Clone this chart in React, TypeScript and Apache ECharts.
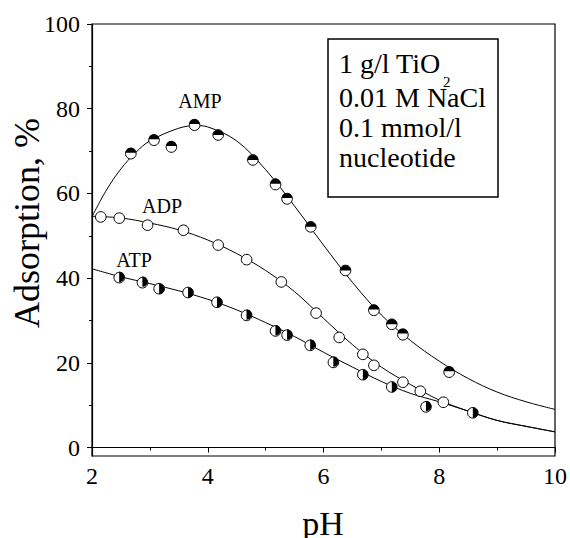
import React, { useEffect, useRef } from "react";
import * as echarts from "echarts";

const FONT = "Liberation Serif";

// Fitted curves
const ampCurvePH = [2, 2.25, 2.5, 2.75, 3, 3.5, 3.8, 4, 4.5, 5, 5.5, 6, 6.5, 7, 7.5, 8, 8.5, 9, 9.5, 10];
const ampCurveVal = [54.5, 60.8, 65.8, 69.6, 72.4, 75.4, 76.0, 75.7, 72.4, 65.6, 57.0, 47.8, 39.0, 31.3, 25.3, 20.4, 16.3, 13.1, 10.8, 9.0];

const adpCurvePH = [2, 2.5, 3, 3.5, 4, 4.5, 5, 5.5, 6, 6.5, 7, 7.5, 8, 8.5, 9, 9.5, 10];
const adpCurveVal = [54.6, 54.2, 53.0, 51.4, 49.0, 45.8, 41.8, 36.8, 30.5, 24.3, 19.0, 14.9, 11.2, 8.6, 6.4, 5.0, 3.7];

const atpCurvePH = [2, 2.5, 3, 3.5, 4, 4.5, 5, 5.5, 6, 6.5, 7, 7.5, 8, 8.5, 9, 9.5, 10];
const atpCurveVal = [42.2, 40.3, 38.7, 37.0, 35.0, 32.5, 29.5, 26.2, 22.5, 19.0, 15.6, 12.8, 10.8, 8.6, 6.4, 5.0, 3.7];

// Measured points
const ampPH = [2.67, 3.07, 3.37, 3.77, 4.18, 4.78, 5.17, 5.37, 5.78, 6.38, 6.87, 7.18, 7.37, 8.17];
const ampVal = [69.6, 72.8, 71.2, 76.4, 73.8, 67.9, 62.3, 58.9, 52.1, 41.8, 32.6, 29.1, 26.9, 18.0];

const adpPH = [2.15, 2.47, 2.96, 3.58, 4.18, 4.67, 5.27, 5.87, 6.27, 6.68, 6.87, 7.37, 7.67, 8.07];
const adpVal = [54.7, 54.4, 52.5, 51.3, 47.8, 44.6, 39.3, 32.0, 26.2, 22.0, 19.6, 15.7, 13.6, 10.9];

const atpPH = [2.47, 2.87, 3.16, 3.66, 4.16, 4.67, 5.17, 5.37, 5.77, 6.17, 6.68, 7.18, 7.77, 8.58];
const atpVal = [40.3, 39.2, 37.5, 36.6, 34.3, 31.4, 27.7, 26.7, 24.3, 20.3, 17.2, 14.3, 9.8, 8.2];

const yMajor = [0, 20, 40, 60, 80, 100];
const yMinor = [10, 30, 50, 70, 90];

const boxLines = ["0.01 M NaCl", "0.1 mmol/l", "nucleotide"];

const zip = (xs: number[], ys: number[]) => xs.map((x, i) => [x, ys[i]]);

function curve(name: string, xs: number[], ys: number[]) {
  return {
    name,
    type: "line",
    data: zip(xs, ys),
    smooth: 0.35,
    showSymbol: false,
    symbol: "none",
    lineStyle: { color: "#000", width: 1 },
    z: 2,
    silent: true,
  };
}

function markers(name: string, xs: number[], ys: number[], kind: "top" | "none" | "right") {
  return {
    name: name + " data",
    type: "custom",
    data: zip(xs, ys),
    encode: { x: 0, y: 1 },
    z: 5,
    renderItem: (params: any, api: any) => {
      const p = api.coord([api.value(0), api.value(1)]);
      const r = 5.3;
      const children: any[] = [
        { type: "circle", shape: { cx: p[0], cy: p[1], r }, style: { fill: "#fff", stroke: "none" } },
      ];
      if (kind === "top") {
        children.push({
          type: "sector",
          shape: { cx: p[0], cy: p[1], r0: 0, r, startAngle: Math.PI, endAngle: 2 * Math.PI, clockwise: true },
          style: { fill: "#000" },
        });
      } else if (kind === "right") {
        children.push({
          type: "sector",
          shape: { cx: p[0], cy: p[1], r0: 0, r, startAngle: -Math.PI / 2, endAngle: Math.PI / 2, clockwise: true },
          style: { fill: "#000" },
        });
      }
      children.push({
        type: "circle",
        shape: { cx: p[0], cy: p[1], r },
        style: { fill: "none", stroke: "#000", lineWidth: 1 },
      });
      return { type: "group", children };
    },
  };
}

export default function App() {
  const ref = useRef<HTMLDivElement>(null);

  useEffect(() => {
    if (!ref.current) return;
    const chart = echarts.init(ref.current, null, { renderer: "svg" });
    const txt = { fill: "#000", fontFamily: FONT };
    const option: any = {
      animation: false,
      backgroundColor: "#fff",
      textStyle: { fontFamily: FONT },
      grid: {
        left: 92,
        right: 15,
        top: 24,
        bottom: 82,
        show: true,
        borderColor: "#000",
        borderWidth: 1.2,
        backgroundColor: "transparent",
      },
      xAxis: {
        type: "value",
        min: 2,
        max: 10,
        interval: 2,
        axisLine: { lineStyle: { color: "#000", width: 1.2 } },
        axisTick: { length: 5, lineStyle: { color: "#000", width: 1 } },
        minorTick: { show: true, splitNumber: 2, length: 3, lineStyle: { color: "#000", width: 1 } },
        splitLine: { show: false },
        minorSplitLine: { show: false },
        axisLabel: { color: "#000", fontSize: 24, fontFamily: FONT, margin: 8 },
      },
      yAxis: [
        {
          type: "value",
          min: -2,
          max: 100,
          axisLine: { show: true, lineStyle: { color: "#000", width: 1.2 } },
          axisTick: { show: true, length: 5, customValues: yMajor, lineStyle: { color: "#000", width: 1 } },
          axisLabel: { color: "#000", fontSize: 24, fontFamily: FONT, margin: 12, customValues: yMajor },
          splitLine: { show: false },
        },
        {
          type: "value",
          min: -2,
          max: 100,
          position: "left",
          offset: 0,
          axisLine: { show: false },
          axisTick: { show: true, length: 3, customValues: yMinor, lineStyle: { color: "#000", width: 1 } },
          axisLabel: { show: false },
          splitLine: { show: false },
        },
      ],
      series: [
        curve("AMP fit", ampCurvePH, ampCurveVal),
        curve("ADP fit", adpCurvePH, adpCurveVal),
        curve("ATP fit", atpCurvePH, atpCurveVal),
        markers("AMP", ampPH, ampVal, "top"),
        markers("ADP", adpPH, adpVal, "none"),
        markers("ATP", atpPH, atpVal, "right"),
      ],
      graphic: [
        {
          type: "text",
          x: 27,
          y: 223,
          rotation: Math.PI / 2,
          style: { ...txt, text: "Adsorption, %", fontSize: 36, align: "center", verticalAlign: "middle" },
        },
        {
          type: "text",
          x: 323,
          y: 523,
          style: { ...txt, text: "pH", fontSize: 34, align: "center", verticalAlign: "middle" },
        },
        { type: "text", x: 200, y: 101, style: { ...txt, text: "AMP", fontSize: 20, align: "center", verticalAlign: "middle" } },
        { type: "text", x: 162, y: 206, style: { ...txt, text: "ADP", fontSize: 20, align: "center", verticalAlign: "middle" } },
        { type: "text", x: 134, y: 260, style: { ...txt, text: "ATP", fontSize: 20, align: "center", verticalAlign: "middle" } },
        {
          type: "rect",
          shape: { x: 328, y: 39, width: 170, height: 158 },
          style: { fill: "#fff", stroke: "#000", lineWidth: 1.5 },
          z: 10,
        },
        {
          type: "text",
          x: 339,
          y: 63,
          z: 11,
          style: { ...txt, text: "1 g/l TiO", fontSize: 28, align: "left", verticalAlign: "middle" },
        },
        {
          type: "text",
          x: 443,
          y: 82,
          z: 11,
          style: { ...txt, text: "2", fontSize: 15, align: "left", verticalAlign: "middle" },
        },
        ...boxLines.map((t, i) => ({
          type: "text",
          x: 339,
          y: 97 + i * 30,
          z: 11,
          style: { ...txt, text: t, fontSize: 28, align: "left", verticalAlign: "middle" },
        })),
      ],
    };
    chart.setOption(option);
    return () => chart.dispose();
  }, []);

  return <div ref={ref} style={{ position: "fixed", left: 0, top: 0, width: 570, height: 538 }} />;
}
